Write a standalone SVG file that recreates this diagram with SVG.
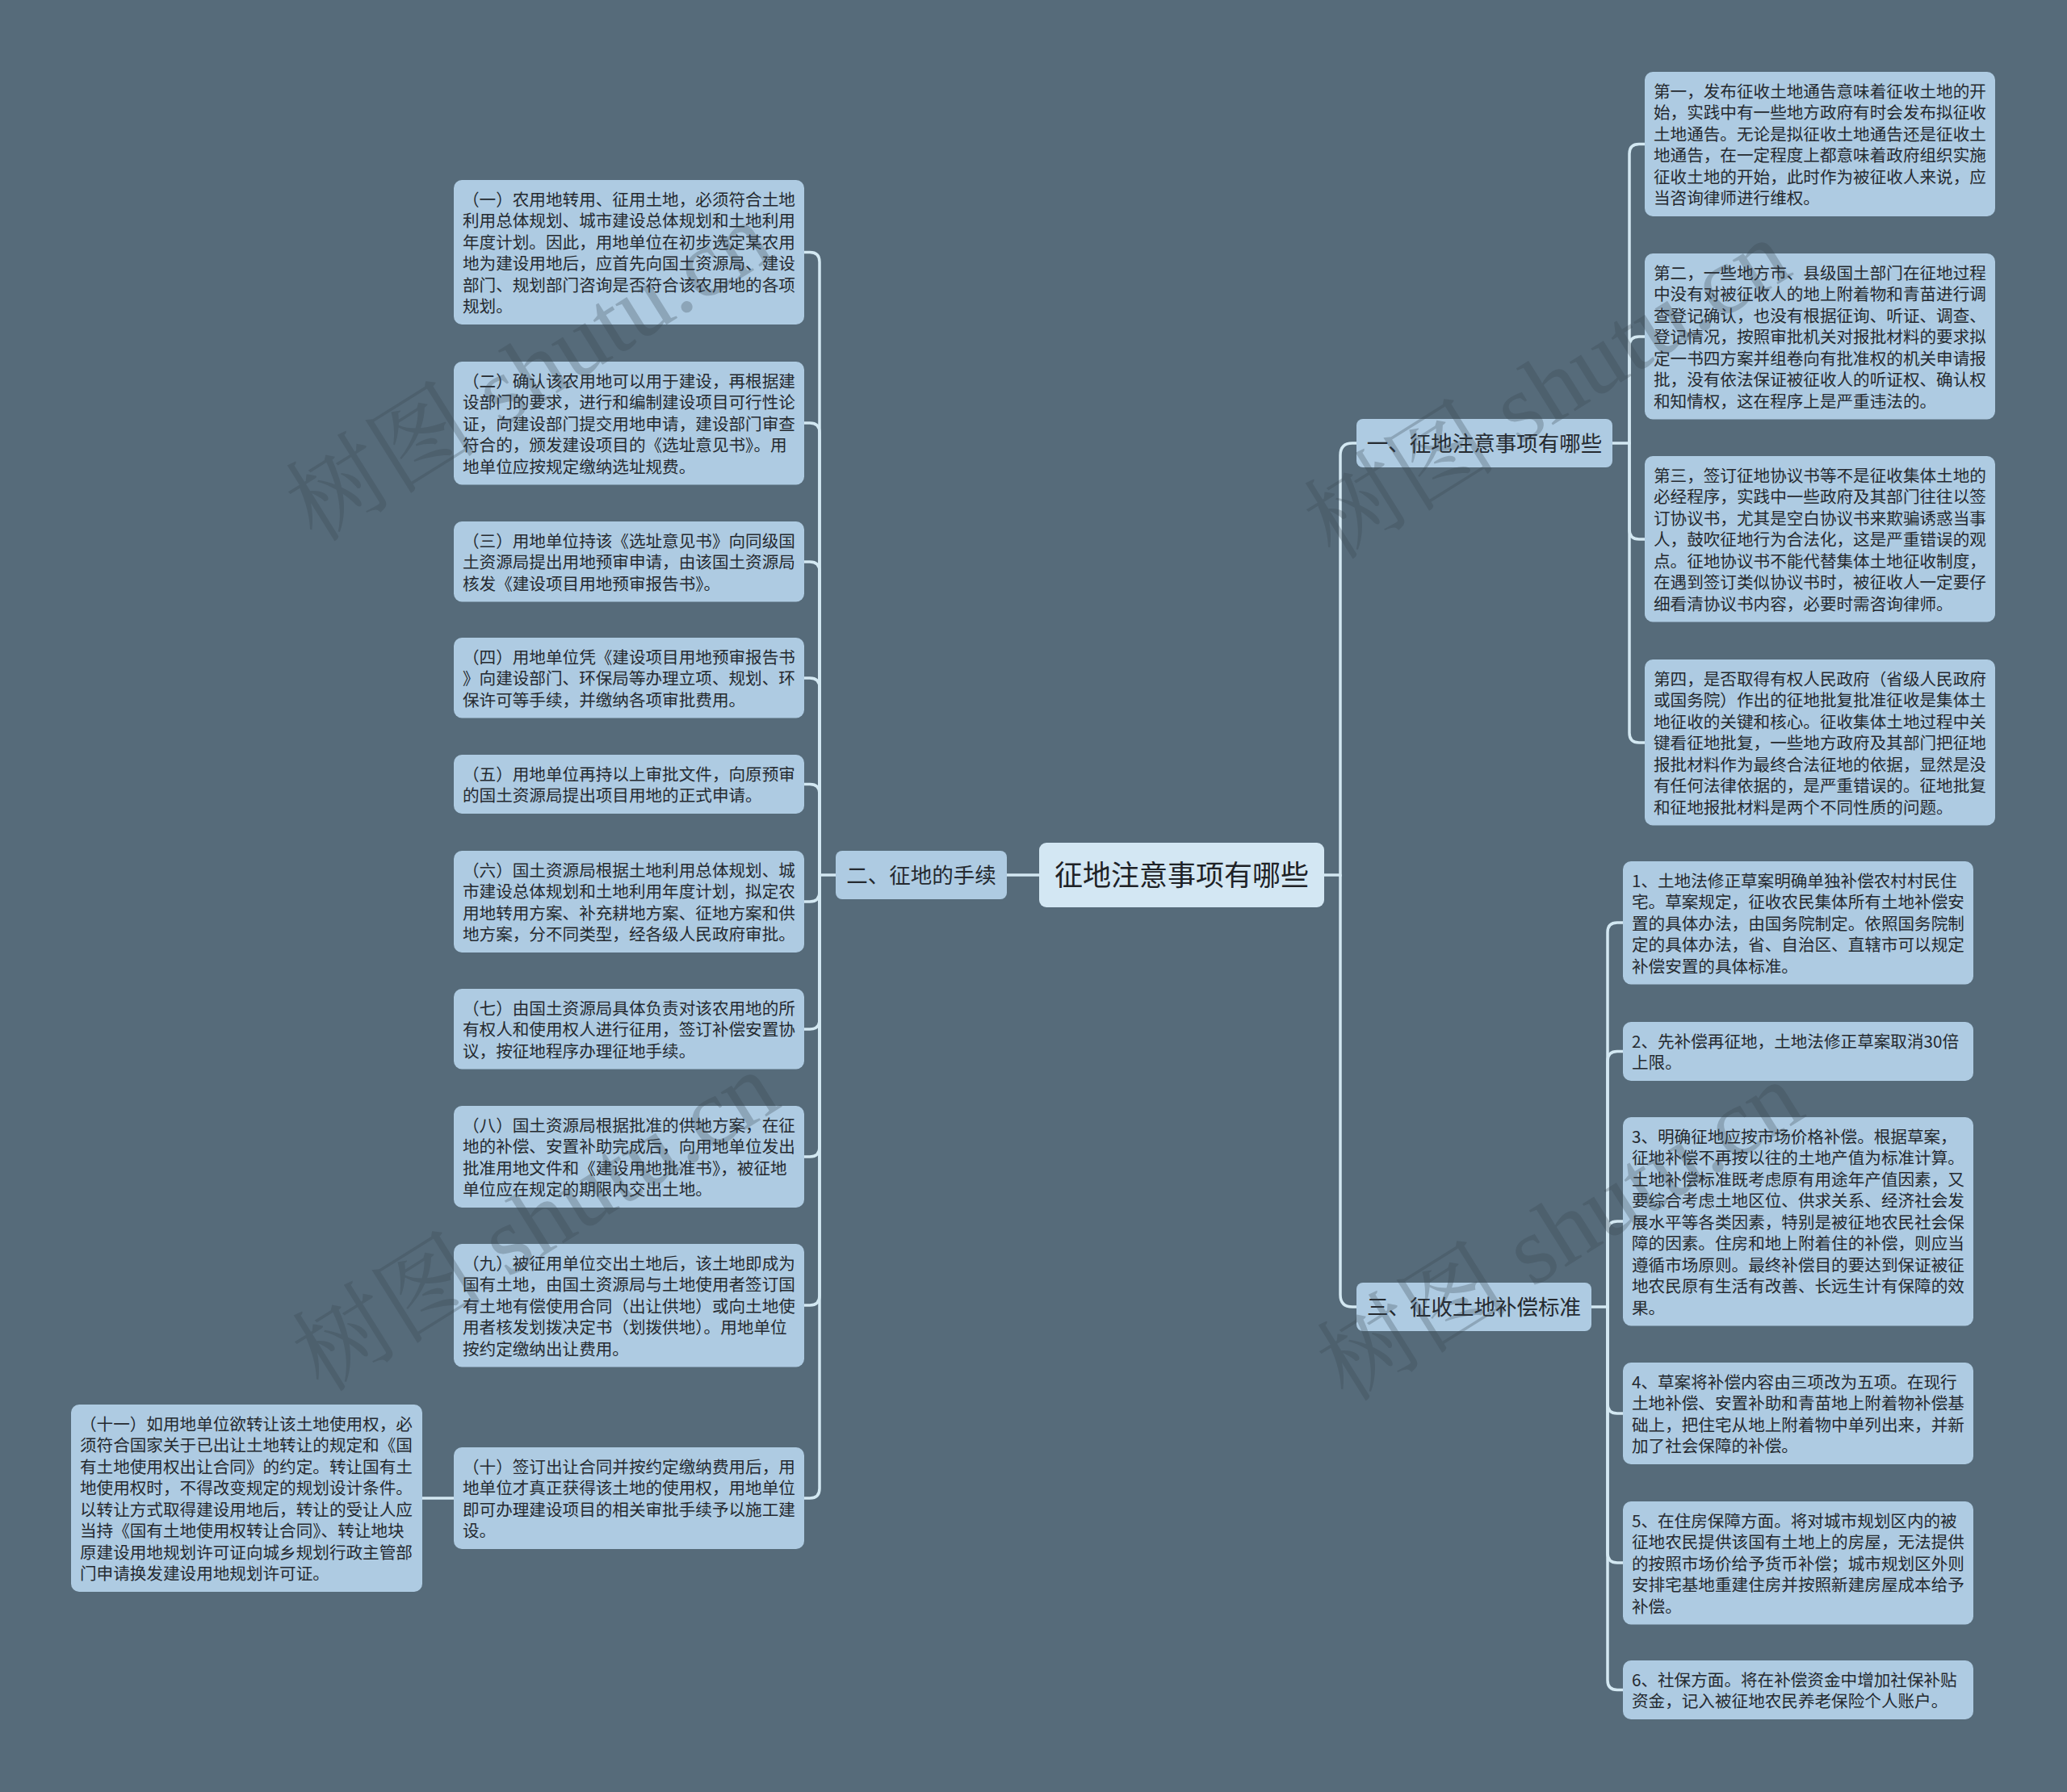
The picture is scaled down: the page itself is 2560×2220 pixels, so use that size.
<svg xmlns="http://www.w3.org/2000/svg" width="2560" height="2220" viewBox="0 0 2560 2220">
<style>
.bg{fill:#566b7a}
.leaf{fill:#aecbe2}
.br{fill:#aecbe2}
.root{fill:#d3e7f3}
.t{font-family:"Noto Sans CJK SC","Noto Sans",sans-serif;font-size:20.6px;fill:#252a30}
.bt{font-family:"Noto Sans CJK SC","Noto Sans",sans-serif;font-size:26.5px;fill:#252a30;text-anchor:middle}
.rt{font-family:"Noto Sans CJK SC","Noto Sans",sans-serif;font-size:35px;fill:#1e2226;text-anchor:middle}
.c{fill:none;stroke:#d3e8f2;stroke-width:3.5;stroke-linecap:round}
.wm{font-family:"Liberation Serif","Noto Serif CJK SC","Noto Sans CJK SC",serif;font-size:120px;fill:#37444f;opacity:0.28;text-anchor:middle}
</style>
<rect class="bg" x="0" y="0" width="2560" height="2220"/>

<g id="connectors">
<path class="c" d="M1287,1084 H1247"/>
<path class="c" d="M1640,1084 H1660 V564 Q1660,549 1675,549 H1680"/>
<path class="c" d="M1660,1084 V1604 Q1660,1619 1675,1619 H1680"/>
<path class="c" d="M1035,1084 H1015"/>
<path class="c" d="M1015,1084 V324.5 Q1015,312.5 1003,312.5 H996"/>
<path class="c" d="M1015,1084 V536 Q1015,524 1003,524 H996"/>
<path class="c" d="M1015,1084 V708 Q1015,696 1003,696 H996"/>
<path class="c" d="M1015,1084 V852 Q1015,840 1003,840 H996"/>
<path class="c" d="M1015,1084 V983.5 Q1015,971.5 1003,971.5 H996"/>
<path class="c" d="M1015,1084 V1105 Q1015,1117 1003,1117 H996"/>
<path class="c" d="M1015,1084 V1263 Q1015,1275 1003,1275 H996"/>
<path class="c" d="M1015,1084 V1421 Q1015,1433 1003,1433 H996"/>
<path class="c" d="M1015,1084 V1605 Q1015,1617 1003,1617 H996"/>
<path class="c" d="M1015,1084 V1844 Q1015,1856 1003,1856 H996"/>
<path class="c" d="M562,1856 H523"/>
<path class="c" d="M1997,549 H2018"/>
<path class="c" d="M2018,549 V190.5 Q2018,178.5 2030,178.5 H2037"/>
<path class="c" d="M2018,549 V429 Q2018,417 2030,417 H2037"/>
<path class="c" d="M2018,549 V656 Q2018,668 2030,668 H2037"/>
<path class="c" d="M2018,549 V908 Q2018,920 2030,920 H2037"/>
<path class="c" d="M1971,1619 H1991"/>
<path class="c" d="M1991,1619 V1155 Q1991,1143 2003,1143 H2010"/>
<path class="c" d="M1991,1619 V1314.5 Q1991,1302.5 2003,1302.5 H2010"/>
<path class="c" d="M1991,1619 V1525 Q1991,1513 2003,1513 H2010"/>
<path class="c" d="M1991,1619 V1739 Q1991,1751 2003,1751 H2010"/>
<path class="c" d="M1991,1619 V1924 Q1991,1936 2003,1936 H2010"/>
<path class="c" d="M1991,1619 V2081.5 Q1991,2093.5 2003,2093.5 H2010"/>
</g>

<g id="root">
<rect class="root" x="1287" y="1044" width="353" height="80" rx="9"/>
<text class="rt" x="1463.5" y="1097">征地注意事项有哪些</text>
</g>

<g id="b1">
<rect class="br" x="1680" y="519" width="317" height="60" rx="8"/>
<text class="bt" x="1838.5" y="559">一、征地注意事项有哪些</text>
</g>
<g id="b2">
<rect class="br" x="1035" y="1054" width="212" height="60" rx="8"/>
<text class="bt" x="1141" y="1094">二、征地的手续</text>
</g>
<g id="b3">
<rect class="br" x="1680" y="1589" width="291" height="60" rx="8"/>
<text class="bt" x="1825.5" y="1629">三、征收土地补偿标准</text>
</g>

<g id="l1">
<rect class="leaf" x="562" y="223" width="434" height="179" rx="10"/>
<text class="t" x="573" y="254.5"><tspan x="573">（一）农用地转用、征用土地，必须符合土地</tspan><tspan x="573" dy="26.5">利用总体规划、城市建设总体规划和土地利用</tspan><tspan x="573" dy="26.5">年度计划。因此，用地单位在初步选定某农用</tspan><tspan x="573" dy="26.5">地为建设用地后，应首先向国土资源局、建设</tspan><tspan x="573" dy="26.5">部门、规划部门咨询是否符合该农用地的各项</tspan><tspan x="573" dy="26.5">规划。</tspan></text>
</g>
<g id="l2">
<rect class="leaf" x="562" y="448" width="434" height="152.5" rx="10"/>
<text class="t" x="573" y="479.5"><tspan x="573">（二）确认该农用地可以用于建设，再根据建</tspan><tspan x="573" dy="26.5">设部门的要求，进行和编制建设项目可行性论</tspan><tspan x="573" dy="26.5">证，向建设部门提交用地申请，建设部门审查</tspan><tspan x="573" dy="26.5">符合的，颁发建设项目的《选址意见书》。用</tspan><tspan x="573" dy="26.5">地单位应按规定缴纳选址规费。</tspan></text>
</g>
<g id="l3">
<rect class="leaf" x="562" y="646" width="434" height="99.5" rx="10"/>
<text class="t" x="573" y="677.5"><tspan x="573">（三）用地单位持该《选址意见书》向同级国</tspan><tspan x="573" dy="26.5">土资源局提出用地预审申请，由该国土资源局</tspan><tspan x="573" dy="26.5">核发《建设项目用地预审报告书》。</tspan></text>
</g>
<g id="l4">
<rect class="leaf" x="562" y="790" width="434" height="99.5" rx="10"/>
<text class="t" x="573" y="821.5"><tspan x="573">（四）用地单位凭《建设项目用地预审报告书</tspan><tspan x="573" dy="26.5">》向建设部门、环保局等办理立项、规划、环</tspan><tspan x="573" dy="26.5">保许可等手续，并缴纳各项审批费用。</tspan></text>
</g>
<g id="l5">
<rect class="leaf" x="562" y="935" width="434" height="73" rx="10"/>
<text class="t" x="573" y="966.5"><tspan x="573">（五）用地单位再持以上审批文件，向原预审</tspan><tspan x="573" dy="26.5">的国土资源局提出项目用地的正式申请。</tspan></text>
</g>
<g id="l6">
<rect class="leaf" x="562" y="1054" width="434" height="126" rx="10"/>
<text class="t" x="573" y="1085.5"><tspan x="573">（六）国土资源局根据土地利用总体规划、城</tspan><tspan x="573" dy="26.5">市建设总体规划和土地利用年度计划，拟定农</tspan><tspan x="573" dy="26.5">用地转用方案、补充耕地方案、征地方案和供</tspan><tspan x="573" dy="26.5">地方案，分不同类型，经各级人民政府审批。</tspan></text>
</g>
<g id="l7">
<rect class="leaf" x="562" y="1225" width="434" height="99.5" rx="10"/>
<text class="t" x="573" y="1256.5"><tspan x="573">（七）由国土资源局具体负责对该农用地的所</tspan><tspan x="573" dy="26.5">有权人和使用权人进行征用，签订补偿安置协</tspan><tspan x="573" dy="26.5">议，按征地程序办理征地手续。</tspan></text>
</g>
<g id="l8">
<rect class="leaf" x="562" y="1370" width="434" height="126" rx="10"/>
<text class="t" x="573" y="1401.5"><tspan x="573">（八）国土资源局根据批准的供地方案，在征</tspan><tspan x="573" dy="26.5">地的补偿、安置补助完成后，向用地单位发出</tspan><tspan x="573" dy="26.5">批准用地文件和《建设用地批准书》，被征地</tspan><tspan x="573" dy="26.5">单位应在规定的期限内交出土地。</tspan></text>
</g>
<g id="l9">
<rect class="leaf" x="562" y="1541" width="434" height="152.5" rx="10"/>
<text class="t" x="573" y="1572.5"><tspan x="573">（九）被征用单位交出土地后，该土地即成为</tspan><tspan x="573" dy="26.5">国有土地，由国土资源局与土地使用者签订国</tspan><tspan x="573" dy="26.5">有土地有偿使用合同（出让供地）或向土地使</tspan><tspan x="573" dy="26.5">用者核发划拨决定书（划拨供地）。用地单位</tspan><tspan x="573" dy="26.5">按约定缴纳出让费用。</tspan></text>
</g>
<g id="l10">
<rect class="leaf" x="562" y="1793" width="434" height="126" rx="10"/>
<text class="t" x="573" y="1824.5"><tspan x="573">（十）签订出让合同并按约定缴纳费用后，用</tspan><tspan x="573" dy="26.5">地单位才真正获得该土地的使用权，用地单位</tspan><tspan x="573" dy="26.5">即可办理建设项目的相关审批手续予以施工建</tspan><tspan x="573" dy="26.5">设。</tspan></text>
</g>
<g id="l11">
<rect class="leaf" x="88" y="1740" width="435" height="232" rx="10"/>
<text class="t" x="99" y="1771.5"><tspan x="99">（十一）如用地单位欲转让该土地使用权，必</tspan><tspan x="99" dy="26.5">须符合国家关于已出让土地转让的规定和《国</tspan><tspan x="99" dy="26.5">有土地使用权出让合同》的约定。转让国有土</tspan><tspan x="99" dy="26.5">地使用权时，不得改变规定的规划设计条件。</tspan><tspan x="99" dy="26.5">以转让方式取得建设用地后，转让的受让人应</tspan><tspan x="99" dy="26.5">当持《国有土地使用权转让合同》、转让地块</tspan><tspan x="99" dy="26.5">原建设用地规划许可证向城乡规划行政主管部</tspan><tspan x="99" dy="26.5">门申请换发建设用地规划许可证。</tspan></text>
</g>

<g id="r1">
<rect class="leaf" x="2037" y="89" width="434" height="179" rx="10"/>
<text class="t" x="2048" y="120.5"><tspan x="2048">第一，发布征收土地通告意味着征收土地的开</tspan><tspan x="2048" dy="26.5">始，实践中有一些地方政府有时会发布拟征收</tspan><tspan x="2048" dy="26.5">土地通告。无论是拟征收土地通告还是征收土</tspan><tspan x="2048" dy="26.5">地通告，在一定程度上都意味着政府组织实施</tspan><tspan x="2048" dy="26.5">征收土地的开始，此时作为被征收人来说，应</tspan><tspan x="2048" dy="26.5">当咨询律师进行维权。</tspan></text>
</g>
<g id="r2">
<rect class="leaf" x="2037" y="314" width="434" height="205.5" rx="10"/>
<text class="t" x="2048" y="345.5"><tspan x="2048">第二，一些地方市、县级国土部门在征地过程</tspan><tspan x="2048" dy="26.5">中没有对被征收人的地上附着物和青苗进行调</tspan><tspan x="2048" dy="26.5">查登记确认，也没有根据征询、听证、调查、</tspan><tspan x="2048" dy="26.5">登记情况，按照审批机关对报批材料的要求拟</tspan><tspan x="2048" dy="26.5">定一书四方案并组卷向有批准权的机关申请报</tspan><tspan x="2048" dy="26.5">批，没有依法保证被征收人的听证权、确认权</tspan><tspan x="2048" dy="26.5">和知情权，这在程序上是严重违法的。</tspan></text>
</g>
<g id="r3">
<rect class="leaf" x="2037" y="565" width="434" height="205.5" rx="10"/>
<text class="t" x="2048" y="596.5"><tspan x="2048">第三，签订征地协议书等不是征收集体土地的</tspan><tspan x="2048" dy="26.5">必经程序，实践中一些政府及其部门往往以签</tspan><tspan x="2048" dy="26.5">订协议书，尤其是空白协议书来欺骗诱惑当事</tspan><tspan x="2048" dy="26.5">人，鼓吹征地行为合法化，这是严重错误的观</tspan><tspan x="2048" dy="26.5">点。征地协议书不能代替集体土地征收制度，</tspan><tspan x="2048" dy="26.5">在遇到签订类似协议书时，被征收人一定要仔</tspan><tspan x="2048" dy="26.5">细看清协议书内容，必要时需咨询律师。</tspan></text>
</g>
<g id="r4">
<rect class="leaf" x="2037" y="817" width="434" height="205.5" rx="10"/>
<text class="t" x="2048" y="848.5"><tspan x="2048">第四，是否取得有权人民政府（省级人民政府</tspan><tspan x="2048" dy="26.5">或国务院）作出的征地批复批准征收是集体土</tspan><tspan x="2048" dy="26.5">地征收的关键和核心。征收集体土地过程中关</tspan><tspan x="2048" dy="26.5">键看征地批复，一些地方政府及其部门把征地</tspan><tspan x="2048" dy="26.5">报批材料作为最终合法征地的依据，显然是没</tspan><tspan x="2048" dy="26.5">有任何法律依据的，是严重错误的。征地批复</tspan><tspan x="2048" dy="26.5">和征地报批材料是两个不同性质的问题。</tspan></text>
</g>

<g id="s1">
<rect class="leaf" x="2010" y="1067" width="434" height="152.5" rx="10"/>
<text class="t" x="2021" y="1098.5"><tspan x="2021">1、土地法修正草案明确单独补偿农村村民住</tspan><tspan x="2021" dy="26.5">宅。草案规定，征收农民集体所有土地补偿安</tspan><tspan x="2021" dy="26.5">置的具体办法，由国务院制定。依照国务院制</tspan><tspan x="2021" dy="26.5">定的具体办法，省、自治区、直辖市可以规定</tspan><tspan x="2021" dy="26.5">补偿安置的具体标准。</tspan></text>
</g>
<g id="s2">
<rect class="leaf" x="2010" y="1266" width="434" height="73" rx="10"/>
<text class="t" x="2021" y="1297.5"><tspan x="2021">2、先补偿再征地，土地法修正草案取消30倍</tspan><tspan x="2021" dy="26.5">上限。</tspan></text>
</g>
<g id="s3">
<rect class="leaf" x="2010" y="1384" width="434" height="258.5" rx="10"/>
<text class="t" x="2021" y="1415.5"><tspan x="2021">3、明确征地应按市场价格补偿。根据草案，</tspan><tspan x="2021" dy="26.5">征地补偿不再按以往的土地产值为标准计算。</tspan><tspan x="2021" dy="26.5">土地补偿标准既考虑原有用途年产值因素，又</tspan><tspan x="2021" dy="26.5">要综合考虑土地区位、供求关系、经济社会发</tspan><tspan x="2021" dy="26.5">展水平等各类因素，特别是被征地农民社会保</tspan><tspan x="2021" dy="26.5">障的因素。住房和地上附着住的补偿，则应当</tspan><tspan x="2021" dy="26.5">遵循市场原则。最终补偿目的要达到保证被征</tspan><tspan x="2021" dy="26.5">地农民原有生活有改善、长远生计有保障的效</tspan><tspan x="2021" dy="26.5">果。</tspan></text>
</g>
<g id="s4">
<rect class="leaf" x="2010" y="1688" width="434" height="126" rx="10"/>
<text class="t" x="2021" y="1719.5"><tspan x="2021">4、草案将补偿内容由三项改为五项。在现行</tspan><tspan x="2021" dy="26.5">土地补偿、安置补助和青苗地上附着物补偿基</tspan><tspan x="2021" dy="26.5">础上，把住宅从地上附着物中单列出来，并新</tspan><tspan x="2021" dy="26.5">加了社会保障的补偿。</tspan></text>
</g>
<g id="s5">
<rect class="leaf" x="2010" y="1860" width="434" height="152.5" rx="10"/>
<text class="t" x="2021" y="1891.5"><tspan x="2021">5、在住房保障方面。将对城市规划区内的被</tspan><tspan x="2021" dy="26.5">征地农民提供该国有土地上的房屋，无法提供</tspan><tspan x="2021" dy="26.5">的按照市场价给予货币补偿；城市规划区外则</tspan><tspan x="2021" dy="26.5">安排宅基地重建住房并按照新建房屋成本给予</tspan><tspan x="2021" dy="26.5">补偿。</tspan></text>
</g>
<g id="s6">
<rect class="leaf" x="2010" y="2057" width="434" height="73" rx="10"/>
<text class="t" x="2021" y="2088.5"><tspan x="2021">6、社保方面。将在补偿资金中增加社保补贴</tspan><tspan x="2021" dy="26.5">资金，记入被征地农民养老保险个人账户。</tspan></text>
</g>

<g id="watermarks">
<text class="wm" transform="translate(653,457) rotate(-32)" x="0" y="45">树图 shutu.cn</text>
<text class="wm" transform="translate(661,1510) rotate(-32)" x="0" y="45">树图 shutu.cn</text>
<text class="wm" transform="translate(1914,479) rotate(-32)" x="0" y="45">树图 shutu.cn</text>
<text class="wm" transform="translate(1930,1522) rotate(-32)" x="0" y="45">树图 shutu.cn</text>
</g>
</svg>
